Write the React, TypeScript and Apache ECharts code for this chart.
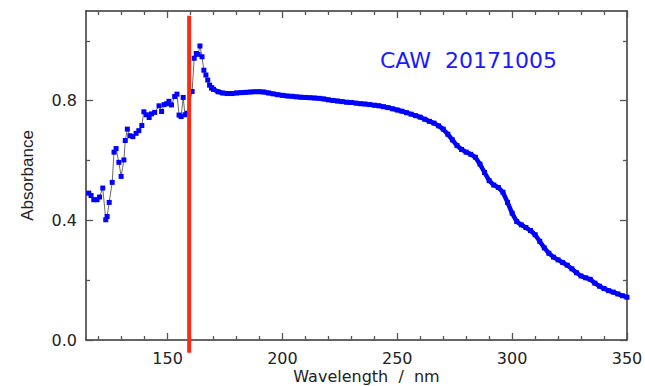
import { useEffect, useRef } from "react";
import * as echarts from "echarts";

// Noisy short-wavelength part of the spectrum: wavelength (nm) and absorbance
const wavelengthLow = [
  115.7, 116.7, 117.9, 119.3, 120.4, 121.8, 123.1, 123.7, 124.6, 125.9,
  126.7, 127.6, 128.8, 129.8, 131.0, 131.6, 132.5, 133.6, 134.9, 136.3,
  137.5, 138.8, 139.7, 140.8, 142.0, 143.0, 144.4, 146.3, 147.4, 148.5,
  149.6, 150.6, 151.7, 153.1, 154.1, 155.0, 155.9, 156.8, 157.6, 158.5,
  160.7, 161.6, 162.5, 163.3, 164.1, 165.0, 165.8, 166.7, 167.5, 168.3,
  169.2,
];
const absorbanceLow = [
  0.491, 0.483, 0.469, 0.469, 0.478, 0.508, 0.402, 0.413, 0.46, 0.527,
  0.628, 0.64, 0.594, 0.547, 0.602, 0.667, 0.705, 0.683, 0.68, 0.691,
  0.7, 0.717, 0.763, 0.753, 0.744, 0.756, 0.761, 0.783, 0.764, 0.787,
  0.79, 0.798, 0.786, 0.814, 0.822, 0.752, 0.747, 0.811, 0.753, 0.758,
  0.831, 0.942, 0.958, 0.955, 0.983, 0.947, 0.902, 0.886, 0.869, 0.852,
  0.843,
];

// Smooth long-wavelength part of the spectrum
const wavelengthHigh = [
  169.2,
  170, 172, 174, 176, 178, 180, 182, 184, 186, 188,
  190, 192, 194, 196, 198, 200, 202, 204, 206, 208,
  210, 212, 214, 216, 218, 220, 222, 224, 226, 228,
  230, 232, 234, 236, 238, 240, 242, 244, 246, 248,
  250, 252, 254, 256, 258, 260, 262, 264, 266, 268,
  270, 272, 274, 276, 278, 280, 282, 284, 286, 288,
  290, 292, 294, 296, 298, 300, 302, 304, 306, 308,
  310, 312, 314, 316, 318, 320, 322, 324, 326, 328,
  330, 332, 334, 336, 338, 340, 342, 344, 346, 348,
  350,
];
const absorbanceHigh = [
  0.843,
  0.838, 0.83, 0.826, 0.824, 0.824, 0.826, 0.827, 0.828, 0.829, 0.83,
  0.83, 0.829, 0.826, 0.823, 0.82, 0.818, 0.816, 0.815, 0.813, 0.812,
  0.811, 0.81, 0.809, 0.808, 0.806, 0.803, 0.801, 0.799, 0.797, 0.795,
  0.794, 0.792, 0.79, 0.789, 0.787, 0.785, 0.783, 0.78, 0.777, 0.773,
  0.769, 0.765, 0.76, 0.755, 0.75, 0.745, 0.738, 0.731, 0.725, 0.716,
  0.705, 0.688, 0.669, 0.65, 0.637, 0.628, 0.621, 0.611, 0.588, 0.56,
  0.533, 0.518, 0.51, 0.494, 0.46, 0.424, 0.396, 0.385, 0.376, 0.366,
  0.352, 0.33, 0.308, 0.29, 0.277, 0.268, 0.259, 0.25, 0.238, 0.225,
  0.214, 0.208, 0.203, 0.19, 0.18, 0.172, 0.165, 0.16, 0.154, 0.148,
  0.143,
];

// Vertical marker position (nm) and its vertical extent (absorbance units)
const cutoffWavelength = 159.4;
const cutoffSpan = [1.084, -0.043];

const sampleLabel = "CAW  20171005";

const xRange = [114.5, 350];
const yRange = [0, 1.1];
const xMajorTicks = [150, 200, 250, 300, 350];
const xMinorTicks = [120, 130, 140, 160, 170, 180, 190, 210, 220, 230, 240, 260, 270, 280, 290, 310, 320, 330, 340];
const yMajorTicks = [0, 0.4, 0.8];
const yMinorTicks = [0.2, 0.6, 1.0];

const FONT = "DejaVu Sans";
const AXIS_COLOR = "#333";
const MARKER_BLUE = "#0000ff";

function xAxisDef(position: "top" | "bottom", ticks: number[], len: number, main: boolean, labels: boolean) {
  return {
    type: "value",
    position,
    min: xRange[0],
    max: xRange[1],
    axisLine: { show: main, onZero: false, lineStyle: { color: AXIS_COLOR, width: 1.5 } },
    axisTick: { show: true, inside: true, length: len, customValues: ticks, lineStyle: { color: "#555", width: 1.3 } },
    axisLabel: labels
      ? { show: true, customValues: xMajorTicks, margin: 10, color: "#222", fontFamily: FONT, fontSize: 16, lineHeight: 16 }
      : { show: false },
    splitLine: { show: false },
    ...(labels
      ? {
          name: "Wavelength  /  nm",
          nameLocation: "middle",
          nameGap: 28,
          nameMoveOverlap: false,
          nameTextStyle: { color: "#222", fontFamily: FONT, fontSize: 16, lineHeight: 16, padding: [0, 0, 0, 20] },
        }
      : {}),
  };
}

function yAxisDef(position: "left" | "right", ticks: number[], len: number, main: boolean, labels: boolean) {
  return {
    type: "value",
    position,
    min: yRange[0],
    max: yRange[1],
    axisLine: { show: main, onZero: false, lineStyle: { color: AXIS_COLOR, width: 1.5 } },
    axisTick: { show: true, inside: true, length: len, customValues: ticks, lineStyle: { color: "#555", width: 1.3 } },
    axisLabel: labels
      ? {
          show: true,
          customValues: yMajorTicks,
          margin: 9,
          color: "#222",
          fontFamily: FONT,
          fontSize: 16,
          formatter: (v: number) => v.toFixed(1),
        }
      : { show: false },
    splitLine: { show: false },
    ...(labels
      ? {
          name: "Absorbance",
          nameLocation: "middle",
          nameGap: 50,
          nameMoveOverlap: false,
          nameTextStyle: { color: "#222", fontFamily: "Liberation Sans", fontSize: 17 },
        }
      : {}),
  };
}

export default function App() {
  const ref = useRef<HTMLDivElement>(null);

  useEffect(() => {
    if (!ref.current) return;
    const chart = echarts.init(ref.current, undefined, { renderer: "svg" });
    const lowPoints = wavelengthLow.map((w, i) => [w, absorbanceLow[i]]);
    const highPoints = wavelengthHigh.map((w, i) => [w, absorbanceHigh[i]]);

    chart.setOption({
      animation: false,
      backgroundColor: "#fff",
      grid: { left: 86, right: 18, top: 11, bottom: 46, outerBoundsMode: "none", containLabel: false },
      xAxis: [
        xAxisDef("bottom", xMajorTicks, 7, true, true),
        xAxisDef("bottom", xMinorTicks, 4, false, false),
        xAxisDef("top", xMajorTicks, 7, true, false),
        xAxisDef("top", xMinorTicks, 4, false, false),
      ],
      yAxis: [
        yAxisDef("left", yMajorTicks, 7, true, true),
        yAxisDef("left", yMinorTicks, 4, false, false),
        yAxisDef("right", yMajorTicks, 7, true, false),
        yAxisDef("right", yMinorTicks, 4, false, false),
      ],
      graphic: [
        {
          type: "text",
          left: 380,
          top: 49,
          style: {
            text: sampleLabel,
            fill: "#1a1aff",
            font: `22px "${FONT}"`,
          },
        },
      ],
      series: [
        {
          type: "line",
          xAxisIndex: 0,
          yAxisIndex: 0,
          data: lowPoints,
          symbol: "rect",
          symbolSize: 5,
          showAllSymbol: true,
          itemStyle: { color: MARKER_BLUE },
          lineStyle: { color: "#444", width: 0.8 },
          z: 2,
        },
        {
          type: "line",
          xAxisIndex: 0,
          yAxisIndex: 0,
          data: highPoints,
          symbol: "rect",
          symbolSize: 5,
          showAllSymbol: true,
          itemStyle: { color: MARKER_BLUE },
          lineStyle: { color: MARKER_BLUE, width: 4.5 },
          z: 2,
        },
        {
          type: "line",
          xAxisIndex: 0,
          yAxisIndex: 0,
          data: cutoffSpan.map((v) => [cutoffWavelength, v]),
          symbol: "none",
          clip: false,
          lineStyle: { color: "#ff2a12", width: 4 },
          z: 3,
        },
      ],
    });

    return () => chart.dispose();
  }, []);

  return (
    <div
      ref={ref}
      style={{ position: "fixed", left: 0, top: 0, width: 645, height: 386 }}
    />
  );
}
